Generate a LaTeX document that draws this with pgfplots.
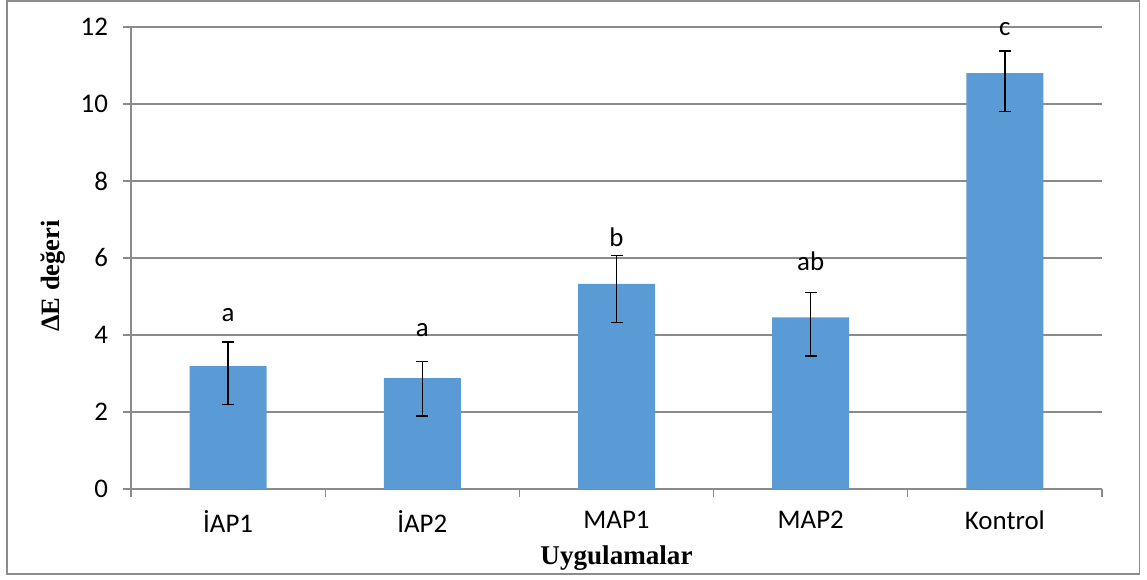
\documentclass[border=0pt]{standalone}
\usepackage{fontspec}
\setmainfont{Carlito}
\newfontfamily\timesfont{Liberation Serif}
\usepackage{pgfplots}
\usepackage{pgfplotstable}
\pgfplotsset{compat=1.18}
\definecolor{barblue}{HTML}{5B9BD5}
\definecolor{gridgray}{HTML}{8A8A8A}
\definecolor{framegray}{HTML}{8C8C8C}

% mean, upper error, lower error
\pgfplotstableread{
x y ep em
0 3.19 0.63 1.00
1 2.88 0.43 0.99
2 5.33 0.73 1.00
3 4.46 0.64 1.00
4 10.80 0.58 1.00
}\datatable

\begin{document}
\begin{tikzpicture}[x=1bp,y=1bp]
\useasboundingbox (0,0) rectangle (573.5,289.5);
\draw[framegray, line width=0.75bp] (3.5,2.5) rectangle (569.8,289);
\begin{axis}[
  at={(65.5bp,45bp)}, anchor=south west,
  scale only axis, width=485.5bp, height=231bp,
  xmin=-0.5, xmax=4.5, ymin=0, ymax=12,
  clip=false,
  axis lines*=left,
  axis line style={-, gridgray, line width=0.6bp},
  xtick={0,...,4},
  xticklabels={İAP1,İAP2,MAP1,MAP2,Kontrol},
  major x tick style={draw=none},
  minor xtick={-0.5,0.5,1.5,2.5,3.5,4.5},
  ytick={0,2,...,12},
  tick align=outside,
  major tick length=4bp,
  minor tick length=4bp,
  tick style={gridgray, line width=0.6bp},
  ymajorgrids,
  grid style={gridgray, line width=0.6bp},
  /pgf/number format/assume math mode=true,
  ticklabel style={font=\fontsize{13.5}{16}\selectfont},
  xticklabel style={yshift=-3.5bp},
  yticklabel style={xshift=-4bp},
  xlabel={\timesfont\bfseries Uygulamalar},
  xlabel style={at={(axis description cs:0.5,0)}, anchor=center, yshift=-34.5bp, font=\fontsize{13.6}{16}\selectfont},
  ylabel={\timesfont\bfseries ΔE değeri},
  ylabel style={at={(axis description cs:-0.0803,0.461)}, anchor=center, font=\fontsize{13.3}{16}\selectfont},
]
\addplot[ybar, bar width=38.5bp, fill=barblue, draw=none,
  error bars/.cd, y dir=both, y explicit,
  error bar style={black, line width=0.75bp},
  error mark options={black, line width=0.75bp, mark size=3bp, rotate=90}]
  table[x=x, y=y, y error plus=ep, y error minus=em] {\datatable};
\addplot[draw=none, mark=none, nodes near coords, point meta=explicit symbolic,
  nodes near coords align={anchor=base},
  every node near coord/.append style={font=\fontsize{13.5}{16}\selectfont, text=black}]
  coordinates {(0,4.36) [a] (1,3.95) [a] (2,6.29) [b] (3,5.67) [ab] (4,11.77) [c]};
\end{axis}
\end{tikzpicture}
\end{document}
